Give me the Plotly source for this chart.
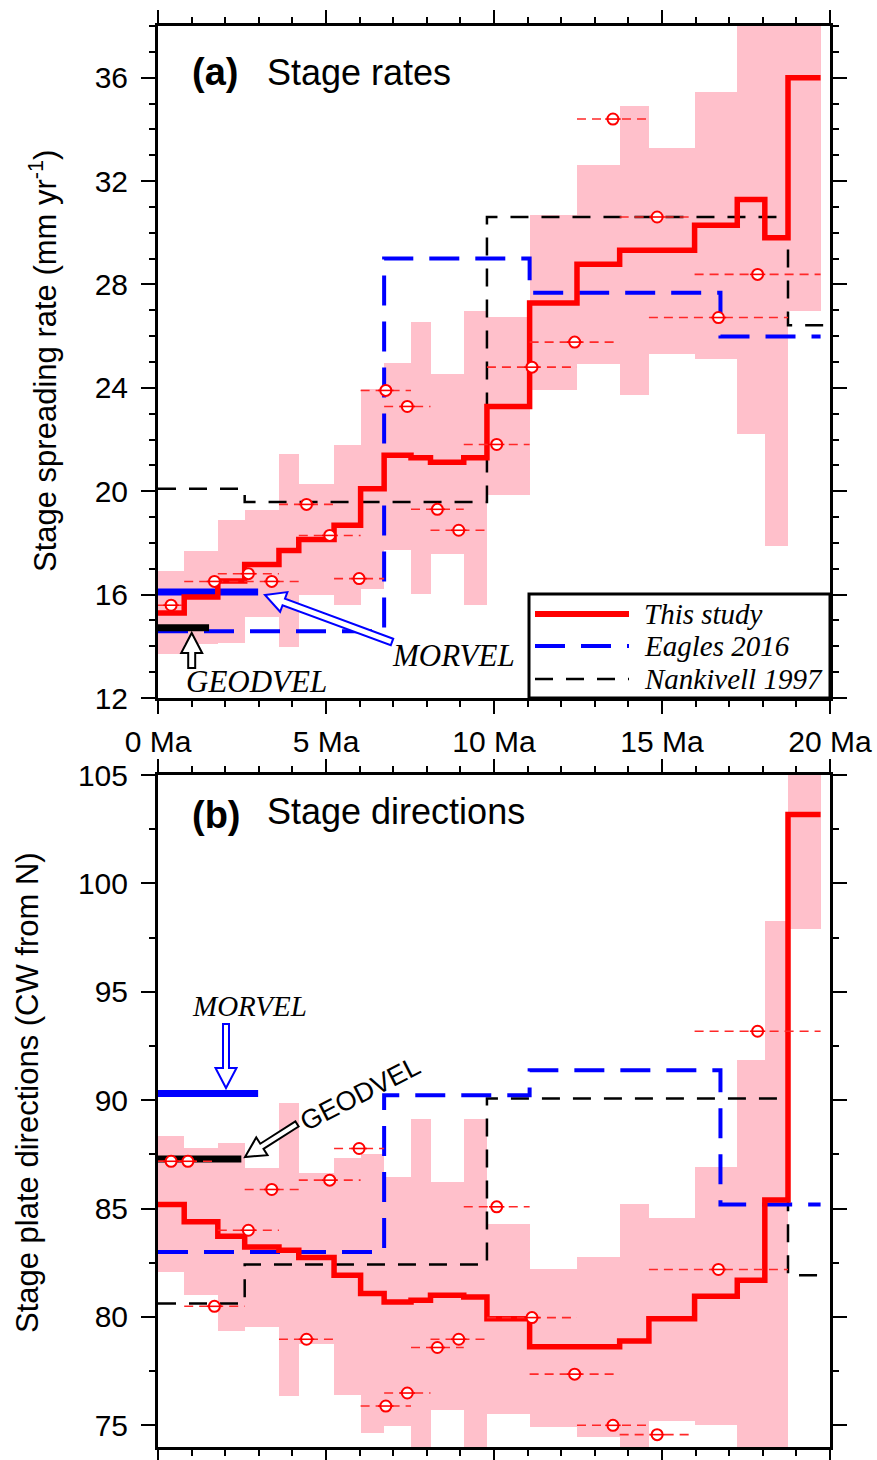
import math
import plotly.graph_objects as go

# ---------------- data ----------------
stage_bounds = [0, 0.78, 1.78, 2.58, 3.60, 4.19, 5.24, 6.03, 6.73, 7.53, 8.11,
                9.10, 9.79, 11.06, 12.47, 13.74, 14.61, 15.97, 17.24, 18.06, 18.75, 19.72]

rate_this = [15.29, 15.91, 16.53, 17.17, 17.71, 18.13, 18.68, 20.10, 21.39, 21.30, 21.12,
             21.30, 23.28, 27.28, 28.78, 29.32, 29.32, 30.29, 31.29, 29.81, 36.00]
rate_low = [13.72, 14.10, 14.14, 15.13, 13.97, 16.00, 15.59, 16.23, 17.74, 16.04, 17.59,
            15.59, 19.84, 23.90, 24.94, 23.71, 25.32, 25.10, 22.20, 17.88, 26.97]
rate_high = [16.90, 17.67, 18.87, 19.26, 21.45, 20.27, 21.78, 23.97, 24.97, 26.55, 24.55,
             26.96, 26.74, 30.67, 32.61, 34.89, 33.28, 35.44, 40.40, 41.70, 45.00]

dir_this = [85.19, 84.39, 83.72, 83.23, 83.08, 82.74, 81.92, 81.08, 80.69, 80.77, 81.00,
            80.92, 79.92, 78.62, 78.62, 78.89, 79.92, 80.95, 81.69, 85.39, 103.18]
dir_low = [82.08, 81.00, 79.35, 79.54, 76.36, 78.77, 76.39, 74.65, 74.96, 72.42, 75.69,
           72.72, 75.51, 74.93, 74.46, 72.55, 75.19, 75.00, 71.53, 72.52, 97.89]
dir_high = [88.35, 87.80, 88.03, 86.85, 89.85, 86.65, 87.31, 87.51, 86.46, 89.12, 86.23,
            89.12, 84.28, 82.23, 82.77, 85.23, 84.57, 86.92, 91.85, 98.26, 108.47]

# individual (two-stage) estimates, panel a
rate_pt_start = [0, 0.78, 1.78, 2.58, 3.60, 4.19, 5.24, 6.03, 6.73, 7.53, 8.11, 9.10,
                 9.79, 11.06, 12.47, 13.74, 14.61, 15.97]
rate_pt_end = [0.78, 2.58, 3.60, 4.19, 5.24, 6.03, 6.73, 7.53, 8.11, 9.10, 9.79, 11.06,
               12.47, 13.74, 14.61, 15.97, 18.75, 19.72]
rate_pts = [15.59, 16.51, 16.81, 16.51, 19.49, 18.29, 16.62, 23.90, 23.28, 19.30, 18.49,
            21.81, 24.80, 25.77, 34.40, 30.61, 26.72, 28.39]

# individual estimates, panel b
dir_pt_start = [0, 0, 0.78, 1.78, 2.58, 3.60, 4.19, 5.24, 6.03, 6.73, 7.53, 8.11, 9.10,
                9.79, 11.06, 12.47, 13.74, 14.61, 15.97]
dir_pt_end = [0.78, 1.78, 2.58, 3.60, 4.19, 5.24, 6.03, 6.73, 7.53, 8.11, 9.10, 9.79,
              11.06, 12.47, 13.74, 14.61, 15.97, 18.75, 19.72]
dir_pts = [87.18, 87.18, 80.49, 84.00, 85.88, 78.97, 86.31, 87.77, 75.89, 76.49, 78.59,
           78.97, 85.08, 79.97, 77.36, 75.00, 74.57, 82.19, 93.18]

# Eagles 2016
eagles_bounds = [0, 6.73, 11.06, 16.74, 19.72]
eagles_rate = [14.58, 29.00, 27.68, 25.99]
eagles_dir = [83.00, 90.23, 91.38, 85.19]

# Nankivell 1997
nank_bounds = [0, 2.58, 9.79, 18.75, 20.0]
nank_rate = [20.10, 19.58, 30.61, 26.42]
nank_dir = [80.62, 82.42, 90.08, 81.92]

# MORVEL / GEODVEL
morvel_span = [0, 2.98]
morvel_rate = 16.10
morvel_dir = 90.31
geodvel_rate_span = [0, 1.52]
geodvel_rate = 14.72
geodvel_dir_span = [0, 2.48]
geodvel_dir = 87.28

x_ticks = [0, 5, 10, 15, 20]
x_tick_text = ["0 Ma", "5 Ma", "10 Ma", "15 Ma", "20 Ma"]

# ---------------- layout geometry ----------------
W, H = 877, 1460
L, R, T, B = 158, 47, 26, 13
PW, PH = W - L - R, H - T - B


def px2paper(px, py):
    return (px - L) / PW, 1 - (py - T) / PH


def hollow_arrow(tail, tip, shaft, head_w, head_len):
    tx, ty = tail
    hx, hy = tip
    dx, dy = hx - tx, hy - ty
    d = math.hypot(dx, dy)
    ux, uy = dx / d, dy / d
    nx, ny = -uy, ux
    bx, by = hx - ux * head_len, hy - uy * head_len
    pts = [(tx + nx * shaft / 2, ty + ny * shaft / 2),
           (bx + nx * shaft / 2, by + ny * shaft / 2),
           (bx + nx * head_w / 2, by + ny * head_w / 2),
           (hx, hy),
           (bx - nx * head_w / 2, by - ny * head_w / 2),
           (bx - nx * shaft / 2, by - ny * shaft / 2),
           (tx - nx * shaft / 2, ty - ny * shaft / 2)]
    s = []
    for p in pts:
        a, b = px2paper(*p)
        s.append(f"{a:.5f},{b:.5f}")
    return "M " + " L ".join(s) + " Z"


PINK = "#FFC0CB"
RED = "#FF0000"
BLUE = "#0000FF"

fig = go.Figure()


def add_panel(xa, ya, this, low, high, eb, ev, nb, nv, ps, pe, pv,
              mspan, mval, gspan, gval):
    mids = [(stage_bounds[i] + stage_bounds[i + 1]) / 2 for i in range(len(this))]
    widths = [stage_bounds[i + 1] - stage_bounds[i] for i in range(len(this))]
    fig.add_trace(go.Bar(x=mids, y=[h - l for h, l in zip(high, low)], base=low,
                         width=widths, marker=dict(color=PINK, line=dict(width=0)),
                         xaxis=xa, yaxis=ya, hoverinfo="skip"))
    fig.add_trace(go.Scatter(x=nb, y=nv + [nv[-1]], mode="lines", line_shape="hv",
                             line=dict(color="black", width=2.5, dash="18px,13px"),
                             xaxis=xa, yaxis=ya))
    fig.add_trace(go.Scatter(x=eb, y=ev + [ev[-1]], mode="lines", line_shape="hv",
                             line=dict(color=BLUE, width=4, dash="30px,16px"),
                             xaxis=xa, yaxis=ya))
    fig.add_trace(go.Scatter(x=mspan, y=[mval, mval], mode="lines",
                             line=dict(color=BLUE, width=7), xaxis=xa, yaxis=ya))
    fig.add_trace(go.Scatter(x=gspan, y=[gval, gval], mode="lines",
                             line=dict(color="black", width=7), xaxis=xa, yaxis=ya))
    fig.add_trace(go.Scatter(x=stage_bounds, y=this + [this[-1]], mode="lines",
                             line_shape="hv", line=dict(color=RED, width=5.5),
                             xaxis=xa, yaxis=ya))
    xs, ys = [], []
    for a, b, v in zip(ps, pe, pv):
        xs += [a, b, None]
        ys += [v, v, None]
    fig.add_trace(go.Scatter(x=xs, y=ys, mode="lines",
                             line=dict(color="rgb(255,40,40)", width=1.6, dash="9px,6px"),
                             xaxis=xa, yaxis=ya))
    pm = [(a + b) / 2 for a, b in zip(ps, pe)]
    fig.add_trace(go.Scatter(x=pm, y=pv, mode="markers",
                             marker=dict(symbol="circle", size=11, color="white",
                                         line=dict(color=RED, width=2)),
                             xaxis=xa, yaxis=ya))
    fig.add_trace(go.Scatter(x=pm, y=pv, mode="markers",
                             marker=dict(symbol="line-ew", size=11,
                                         line=dict(color=RED, width=1.6)),
                             xaxis=xa, yaxis=ya))


add_panel("x", "y", rate_this, rate_low, rate_high, eagles_bounds, eagles_rate,
          nank_bounds, nank_rate, rate_pt_start, rate_pt_end, rate_pts,
          morvel_span, morvel_rate, geodvel_rate_span, geodvel_rate)
add_panel("x2", "y2", dir_this, dir_low, dir_high, eagles_bounds, eagles_dir,
          nank_bounds, nank_dir, dir_pt_start, dir_pt_end, dir_pts,
          morvel_span, morvel_dir, geodvel_dir_span, geodvel_dir)

top_dom = [1 - (698 - T) / PH, 1]
bot_dom = [0, 1 - (775 - T) / PH]

common = dict(showline=True, linewidth=3, linecolor="black", mirror="ticks",
              ticks="outside", tickwidth=2, tickcolor="black", showgrid=False,
              zeroline=False, automargin=False,
              tickfont=dict(size=30, family="Liberation Sans, Arial", color="black"))
minor_x = dict(dtick=1, ticklen=6, ticks="outside", tickwidth=1.5, tickcolor="black",
               showgrid=False)

fig.update_layout(
    width=W, height=H, template="none",
    margin=dict(l=L, r=R, t=T, b=B, pad=0),
    plot_bgcolor="white", paper_bgcolor="white", showlegend=False,
    barmode="overlay", bargap=0,
    font=dict(family="Liberation Sans, Arial", size=30, color="black"),
    xaxis=dict(domain=[0, 1], anchor="y", range=[0, 20], tickvals=x_ticks,
               ticktext=x_tick_text, ticklen=13, ticklabelstandoff=2,
               minor=minor_x, **common),
    yaxis=dict(domain=top_dom, anchor="x", range=[12, 38], tick0=12, dtick=4,
               ticklen=14, ticklabelstandoff=7,
               minor=dict(dtick=1, ticklen=6, ticks="outside", tickwidth=1.5,
                          tickcolor="black", showgrid=False), **common),
    xaxis2=dict(domain=[0, 1], anchor="y2", range=[0, 20], tickvals=x_ticks,
                showticklabels=False, ticklen=13, minor=minor_x, **common),
    yaxis2=dict(domain=bot_dom, anchor="x2", range=[74, 105], tick0=75, dtick=5,
                ticklen=14, ticklabelstandoff=7,
                minor=dict(dtick=2.5, ticklen=6, ticks="outside", tickwidth=1.5,
                           tickcolor="black", showgrid=False), **common),
)

shapes = []
annots = []


def ann(px, py, text, size, family, xanchor="left", angle=0):
    x, y = px2paper(px, py)
    annots.append(dict(x=x, y=y, xref="paper", yref="paper", text=text, showarrow=False,
                       xanchor=xanchor, yanchor="middle", textangle=angle,
                       font=dict(size=size, family=family, color="black")))


SERIF = "Liberation Serif, Times New Roman, serif"
SANS = "Liberation Sans, Arial, sans-serif"

# panel titles
ann(190, 72, "<b>(a)</b>", 38, SANS)
ann(265, 72, "Stage rates", 36, SANS)
ann(190, 815, "<b>(b)</b>", 38, SANS)
ann(265, 811, "Stage directions", 36, SANS)

# axis titles
ann(43, 361, "Stage spreading rate (mm yr<sup>-1</sup>)", 31, SANS, "center", -90)
ann(27, 1093, "Stage plate directions (CW from N)", 31, SANS, "center", -90)

# MORVEL / GEODVEL labels
ann(390, 655, "<i>MORVEL</i>", 31, SERIF)
ann(184, 681, "<i>GEODVEL</i>", 31, SERIF)
ann(249, 1006, "<i>MORVEL</i>", 29, SERIF, "center")
ann(360, 1094, "GEODVEL", 27, SANS, "center", -27)

for tail, tip, col, sw in [((392, 642), (265, 595), BLUE, 7),
                           ((191.7, 668), (191.7, 633), "black", 7),
                           ((226, 1024), (226, 1088), BLUE, 6),
                           ((297, 1124), (245, 1157), "black", 6)]:
    shapes.append(dict(type="path", xref="paper", yref="paper",
                       path=hollow_arrow(tail, tip, sw, 21, 20),
                       fillcolor="white", line=dict(color=col, width=2), layer="above"))

# legend box
x0, y0 = px2paper(529, 594)
x1, y1 = px2paper(830, 698)
shapes.append(dict(type="rect", xref="paper", yref="paper", x0=x0, y0=y1, x1=x1, y1=y0,
                   fillcolor="white", line=dict(color="black", width=3), layer="above"))
for py, col, w, dash, label in [(614, RED, 6, "solid", "This study"),
                                (646, BLUE, 4, "30px,16px", "Eagles 2016"),
                                (679, "black", 2.5, "18px,13px", "Nankivell 1997")]:
    ax0, ay = px2paper(535, py)
    ax1, _ = px2paper(629, py)
    shapes.append(dict(type="line", xref="paper", yref="paper", x0=ax0, x1=ax1,
                       y0=ay, y1=ay, line=dict(color=col, width=w, dash=dash),
                       layer="above"))
    ann(642, py, f"<i>{label}</i>", 29, SERIF)

fig.update_layout(shapes=shapes, annotations=annots)
fig.write_html("out.html")
